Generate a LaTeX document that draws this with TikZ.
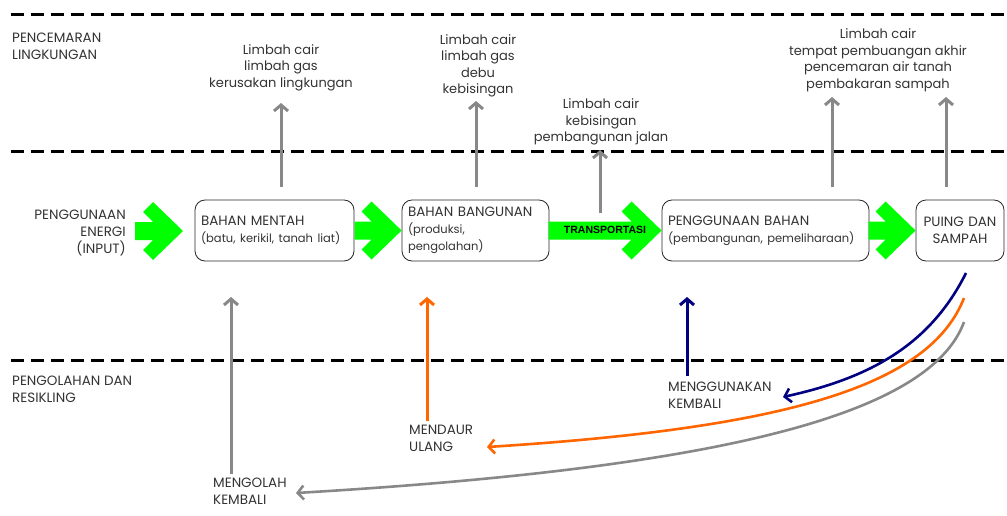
\documentclass[tikz,border=0pt]{standalone}
\usepackage{fontspec}
\setmainfont{Poppins}
\setsansfont{Liberation Sans}
\usetikzlibrary{arrows.meta}
\definecolor{flowgreen}{RGB}{0,255,0}
\definecolor{arrowgray}{RGB}{136,136,136}
\definecolor{reuseblue}{RGB}{0,0,128}
\definecolor{recycleorange}{RGB}{255,102,0}
\definecolor{textgray}{RGB}{51,51,51}
\newcommand{\detail}[2][11.5]{{\fontsize{#1}{17}\selectfont #2}}

\tikzset{
  pics/flowarrow/.style={code={
    \fill[flowgreen] (0,0) -- (-30,-29) -- (-40,-19) -- (-30,-9) -- (#1,-9)
      -- (#1,9) -- (-30,9) -- (-40,19) -- (-30,29) -- cycle;
  }}
}

\begin{document}
\begin{tikzpicture}[x=1pt,y=-1pt,
    every node/.style={font=\fontsize{13.5}{17}\selectfont, text=textgray},
    stage/.style={draw=black!85, line width=0.8pt, rounded corners=10pt,
      minimum height=61pt, inner xsep=6pt, inner ysep=0pt, align=left},
    note/.style={align=center, inner sep=0pt, font=\fontsize{13}{16.5}\selectfont},
    side/.style={align=left, inner sep=0pt, anchor=north west},
    lane/.style={line width=3pt, dash pattern=on 13pt off 7pt},
    barb/.style={-{Straight Barb[length=6pt,width=14pt]}},
    upgray/.style={barb, draw=arrowgray, line width=3pt},
    backline/.style={barb, line width=2.6pt}]
  \useasboundingbox (0,0) rectangle (1007,516);

  % Lanes
  \foreach \y in {15,152,360} {
    \draw[lane] (11,\y) -- (1007,\y);
  }
  \node[side] (pencemaran) at (12,33) {PENCEMARAN\\LINGKUNGAN};
  \node[side] (pengolahan) at (12,376) {PENGOLAHAN DAN\\RESIKLING};

  % Stages
  \node[align=right, inner sep=0pt, anchor=east] (energi) at (126,232.5) {PENGGUNAAN\\ENERGI\\(INPUT)};
  \node[stage, text width=147pt] (mentah) at (274.5,230.5) {BAHAN MENTAH\\\detail{(batu, kerikil, tanah liat)}};
  \node[stage, text width=135pt] (bangunan) at (475.5,230.5) {BAHAN BANGUNAN\\\detail{(produksi,}\\\detail{pengolahan)}};
  \node[stage, text width=195pt] (penggunaan) at (765.5,230.5) {PENGGUNAAN BAHAN\\\detail{(pembangunan, pemeliharaan)}};
  \node[stage, text width=76pt, align=center] (puing) at (960,230.5) {PUING DAN\\SAMPAH};

  % Flow arrows
  \coordinate (start) at (183,231);
  \pic at (start) {flowarrow=-48};
  \pic at (bangunan.west) {flowarrow=-47};
  \pic at (penggunaan.west) {flowarrow=-113};
  \pic at (puing.west) {flowarrow=-47};
  \node[font=\sffamily\fontsize{10.5}{12}\bfseries\selectfont, text=black] (transport) at (605,230) {TRANSPORTASI};

  % Pollution
  \node[note] (pollA) at (281,67.5) {Limbah cair\\limbah gas\\kerusakan lingkungan};
  \node[note] (pollB) at (478,66) {Limbah cair\\limbah gas\\debu\\kebisingan};
  \node[note] (pollC) at (601,122) {Limbah cair\\kebisingan\\pembangunan jalan};
  \node[note] (pollD) at (878,60) {Limbah cair\\tempat pembuangan akhir\\pencemaran air tanah\\pembakaran sampah};
  \foreach \x/\from/\to in {281/187/103, 476/187/101, 600/213/150, 832/187/97, 946/187/97} {
    \coordinate (src\x) at (\x,\from);
    \coordinate (dst\x) at (\x,\to);
    \draw[upgray] (src\x) -- (dst\x);
  }

  % Recycling
  \node[side] (mengolah) at (213,478) {MENGOLAH\\KEMBALI};
  \node[side] (mendaur) at (409,425) {MENDAUR\\ULANG};
  \node[side] (menggunakan) at (668,382) {MENGGUNAKAN\\KEMBALI};
  \coordinate (upA) at (231,297);
  \coordinate (upB) at (427,297);
  \coordinate (upC) at (687,297);
  \draw[upgray] ([xshift=18pt,yshift=4pt]mengolah.north west) -- (upA);
  \draw[upgray, draw=recycleorange] ([xshift=18pt,yshift=4pt]mendaur.north west) -- (upB);
  \draw[upgray, draw=reuseblue] ([xshift=19pt,yshift=6pt]menggunakan.north west) -- (upC);

  \coordinate (fromA) at (966,273);
  \coordinate (fromB) at (964,298);
  \coordinate (fromC) at (964,322);
  \coordinate (toA) at (783,397);
  \coordinate (toB) at (487,447);
  \coordinate (toC) at (296,493);
  \draw[backline, draw=reuseblue] (fromA) .. controls (930,345) and (870,378) .. (toA);
  \draw[backline, draw=recycleorange] (fromB) .. controls (930,385) and (790,428) .. (toB);
  \draw[backline, draw=arrowgray] (fromC) .. controls (930,415) and (720,468) .. (toC);
\end{tikzpicture}
\end{document}
